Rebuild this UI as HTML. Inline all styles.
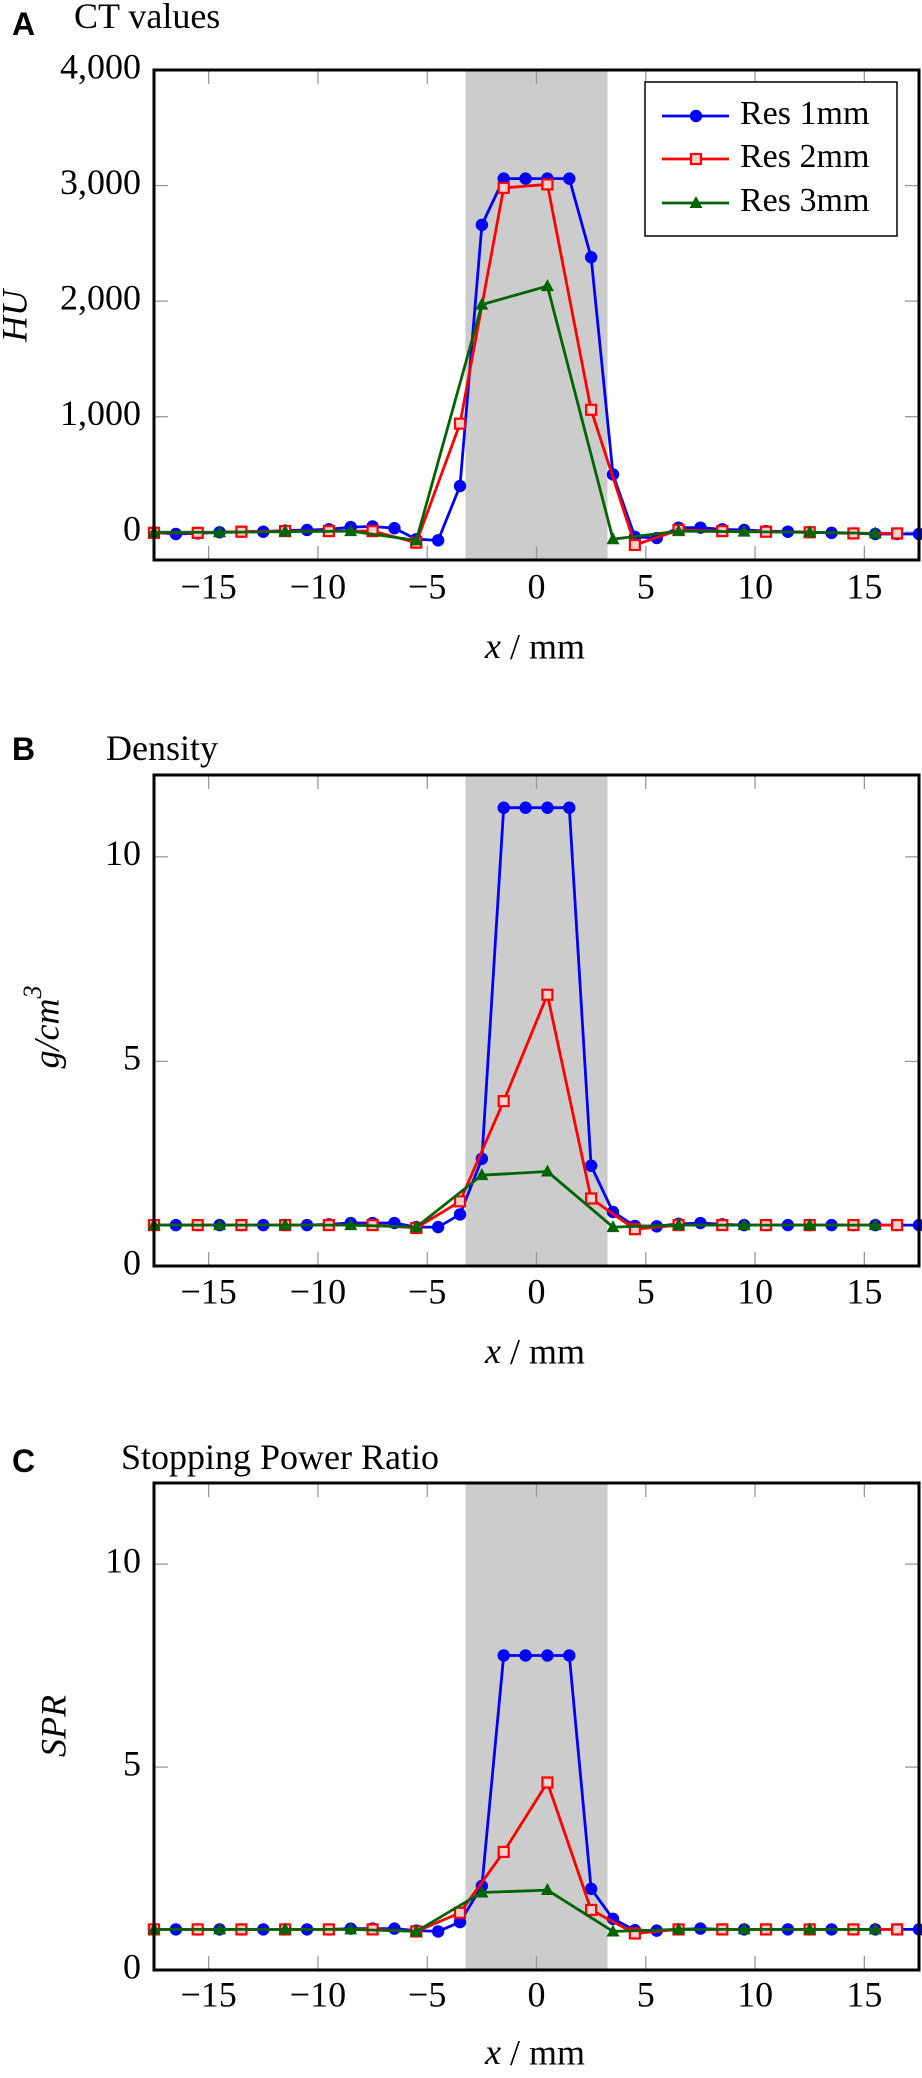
<!DOCTYPE html>
<html><head><meta charset="utf-8"><style>
html,body{margin:0;padding:0;background:#fff;width:922px;height:2078px;overflow:hidden}
svg text{font-family:"Liberation Serif",serif;fill:#000}
</style></head><body>
<svg id="fig" width="922" height="2078" xmlns="http://www.w3.org/2000/svg"></svg>
<script>
// ---- data ----
const xsBlue = [-17.5,-16.5,-15.5,-14.5,-13.5,-12.5,-11.5,-10.5,-9.5,-8.5,-7.5,-6.5,-5.5,-4.5,-3.5,-2.5,-1.5,-0.5,0.5,1.5,2.5,3.5,4.5,5.5,6.5,7.5,8.5,9.5,10.5,11.5,12.5,13.5,14.5,15.5,16.5,17.5];
const xsRed = [-17.5,-15.5,-13.5,-11.5,-9.5,-7.5,-5.5,-3.5,-1.5,0.5,2.5,4.5,6.5,8.5,10.5,12.5,14.5,16.5];
const xsGreen = [-17.5,-14.5,-11.5,-8.5,-5.5,-2.5,0.5,3.5,6.5,9.5,12.5,15.5];

const ctBlue = [0,-15,-10,0,5,5,15,20,25,45,50,35,-60,-70,400,2660,3060,3060,3060,3060,2380,500,-40,-50,40,40,25,20,10,5,0,-5,-10,-15,-15,-15];
const ctRed = [-5,-5,5,10,10,10,-90,940,2980,3010,1060,-110,20,10,5,0,-10,-10];
const ctGreen = [0,0,5,10,-70,1970,2130,-60,10,5,0,-10];

const denBlue = [1,1,1,1,1,1,1,1,1.02,1.05,1.05,1.05,0.95,0.95,1.26,2.62,11.2,11.2,11.2,11.2,2.45,1.32,0.98,0.97,1.03,1.05,1.02,1,1,1,1,1,1,1,1,1];
const denRed = [1,1,1,1,1,1,0.93,1.58,4.03,6.63,1.65,0.9,1,1,1,1,1,1];
const denGreen = [1,1,1,1,0.95,2.22,2.31,0.95,1,1,1,1];

const sprBlue = [1,1,1,1,1,1,1,1,1,1.02,1.02,1.02,0.97,0.95,1.18,2.07,7.75,7.75,7.75,7.75,2.0,1.26,0.98,0.97,1.0,1.02,1.0,1,1,1,1,1,1,1,1,1];
const sprRed = [1,1,1,1,1,1,0.95,1.41,2.91,4.62,1.48,0.9,1,1,1,1,1,1];
const sprGreen = [1,1,1,1,0.95,1.91,1.97,0.95,1,1,1,1];

const xTicks = [-15,-10,-5,0,5,10,15];
const xTickLabels = ["\u221215","\u221210","\u22125","0","5","10","15"];
const ctTicks = [0,1000,2000,3000,4000];
const ctTickLabels = ["0","1,000","2,000","3,000","4,000"];
const dTicks = [0,5,10];
const dTickLabels = ["0","5","10"];
const band = [-3.25,3.25];

const NS="http://www.w3.org/2000/svg";
const svg=document.getElementById('fig');
function mk(tag,attrs,parent){const e=document.createElementNS(NS,tag);for(const k in attrs)e.setAttribute(k,attrs[k]);(parent||svg).appendChild(e);return e;}

function panel(p){
  const g=mk('g',{});
  
  
  const L=154,R=919,T=p.top,B=p.bottom;
  const sx=v=>L+(v+17.5)/35*(R-L);
  const sy=v=>B-(v-p.ymin)/(p.ymax-p.ymin)*(B-T);
  const bd=mk('rect',{x:sx(band[0]),y:T,width:sx(band[1])-sx(band[0]),height:B-T,fill:'#cccccc'},g);
  
  
  xTicks.forEach((t,i)=>{
    mk('line',{x1:sx(t),x2:sx(t),y1:T,y2:T+14,stroke:'#999',"stroke-width":1.3},g);
    mk('line',{x1:sx(t),x2:sx(t),y1:B,y2:B-14,stroke:'#999',"stroke-width":1.3},g);
    const tx=mk('text',{x:sx(t),y:p.xtickY,"text-anchor":"middle","font-size":36,"dominant-baseline":"middle"},g);
    tx.textContent=xTickLabels[i];
    
    
  });
  p.yticks.forEach((t,i)=>{
    mk('line',{x1:L,x2:L+14,y1:sy(t),y2:sy(t),stroke:'#999',"stroke-width":1.3},g);
    mk('line',{x1:R,x2:R-14,y1:sy(t),y2:sy(t),stroke:'#999',"stroke-width":1.3},g);
    const ty=mk('text',{x:141,y:sy(t),"text-anchor":"end","font-size":36,"dominant-baseline":"middle"},g);
    ty.textContent=p.ylabels[i];
    
    
  });
  const series=[
    {xs:xsBlue,ys:p.blue,c:'#0000ff',m:'circle',n:'res-1mm'},
    {xs:xsRed,ys:p.red,c:'#ff0000',m:'square',n:'res-2mm'},
    {xs:xsGreen,ys:p.green,c:'#006400',m:'triangle',n:'res-3mm'}];
  series.forEach(s=>{
    const pts=s.xs.map((x,i)=>sx(x).toFixed(1)+','+sy(s.ys[i]).toFixed(1)).join(' ');
    const pl=mk('polyline',{points:pts,fill:'none',stroke:s.c,"stroke-width":2.8,"stroke-linejoin":"round"},g);
    
    
    s.xs.forEach((x,i)=>{
      const cx=sx(x),cy=sy(s.ys[i]);let m;
      if(s.m==='circle')m=mk('circle',{cx:cx,cy:cy,r:6.2,fill:s.c},g);
      else if(s.m==='square')m=mk('rect',{x:cx-5,y:cy-5,width:10,height:10,fill:'#ffd0d0',stroke:s.c,"stroke-width":2.2},g);
      else m=mk('polygon',{points:`${cx},${cy-7} ${cx-6.5},${cy+5} ${cx+6.5},${cy+5}`,fill:s.c},g);
      
      
    });
  });
  const fr=mk('rect',{x:L,y:T,width:R-L,height:B-T,fill:'none',stroke:'#000',"stroke-width":3},g);
  
  
  const lt=mk('text',{x:12,y:p.letterY,"font-size":32,"font-weight":"bold",style:'font-family:"Liberation Sans",sans-serif'},g);
  lt.textContent=p.letter;
  
  
  const ti=mk('text',{x:p.titleX,y:p.titleY,"font-size":36},g);
  ti.textContent=p.title;
  
  
  const xt=mk('text',{x:535,y:p.xtitleY,"text-anchor":"middle","font-size":36,"dominant-baseline":"middle"},g);
  xt.innerHTML='<tspan font-style="italic">x</tspan> / mm';
  
  
  const yt=mk('text',{x:0,y:0,"text-anchor":"middle","font-size":36,"font-style":"italic","dominant-baseline":"middle",transform:`translate(${p.ytitleX},${p.ytitleY}) rotate(-90)`},g);
  yt.innerHTML=p.ytitle;
  
  
  return g;
}

panel({name:'ct',top:70,bottom:560,ymin:-240,ymax:4000,yticks:ctTicks,ylabels:ctTickLabels,blue:ctBlue,red:ctRed,green:ctGreen,
  letter:'A',letterY:35,title:'CT values',titleX:74,titleY:28,xtickY:590,xtitleY:650,ytitleX:18,ytitleY:316,ytitle:'HU'});
panel({name:'density',top:775,bottom:1266,ymin:0,ymax:12,yticks:dTicks,ylabels:dTickLabels,blue:denBlue,red:denRed,green:denGreen,
  letter:'B',letterY:760,title:'Density',titleX:106,titleY:760,xtickY:1295,xtitleY:1355,ytitleX:50,ytitleY:1027,ytitle:'g/cm<tspan baseline-shift="super" font-size="26">3</tspan>'});
panel({name:'spr',top:1483,bottom:1970,ymin:0,ymax:12,yticks:dTicks,ylabels:dTickLabels,blue:sprBlue,red:sprRed,green:sprGreen,
  letter:'C',letterY:1472,title:'Stopping Power Ratio',titleX:121,titleY:1469,xtickY:1998,xtitleY:2056,ytitleX:57,ytitleY:1726,ytitle:'SPR'});

const lg=mk('g',{});


mk('rect',{x:645,y:82,width:252,height:154,fill:'#fff',stroke:'#000',"stroke-width":1.5},lg);
const legNames=['Res 1mm','Res 2mm','Res 3mm'];
const legColors=['#0000ff','#ff0000','#006400'];
const legY=[116,159,203];
legNames.forEach((n,i)=>{
  const e=mk('g',{},lg);
  
  
  mk('line',{x1:662,x2:729,y1:legY[i],y2:legY[i],stroke:legColors[i],"stroke-width":2.8},e);
  const c=696,y=legY[i];
  if(i===0)mk('circle',{cx:c,cy:y,r:6.2,fill:legColors[i]},e);
  else if(i===1)mk('rect',{x:c-5,y:y-5,width:10,height:10,fill:'#ffd0d0',stroke:legColors[i],"stroke-width":2.2},e);
  else mk('polygon',{points:`${c},${y-7} ${c-6.5},${y+5} ${c+6.5},${y+5}`,fill:legColors[i]},e);
  const t=mk('text',{x:740,y:y,"font-size":34,"dominant-baseline":"middle"},e);
  t.textContent=n;
});
</script>
</body></html>
